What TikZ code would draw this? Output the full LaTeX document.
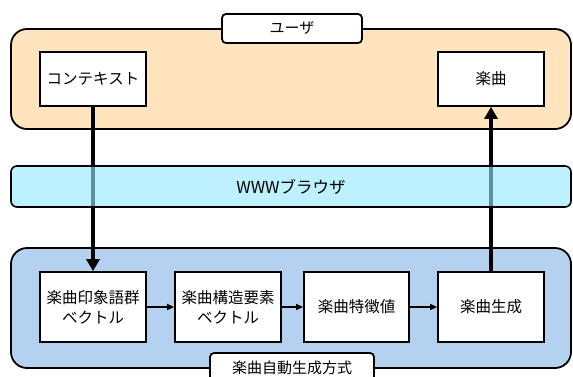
\documentclass[tikz,border=0pt]{standalone}
\usepackage{fontspec}
\setmainfont{Noto Sans CJK JP}
\usetikzlibrary{arrows.meta}
\definecolor{userfill}{RGB}{255,228,189}
\definecolor{genfill}{RGB}{180,210,240}
\definecolor{browserfill}{RGB}{150,232,255}
\tikzset{
  grp/.style={draw=black, line width=1.8pt, rounded corners=16pt},
  tagbox/.style={draw=black, fill=white, line width=1.8pt, rounded corners=4pt, font=\fontsize{15}{17}\selectfont},
  itembox/.style={draw=black, fill=white, line width=1.7pt, minimum width=106pt, minimum height=54pt, inner sep=0pt, align=center, font=\fontsize{15.5}{20}\selectfont},
  thick arrow/.style={line width=3.2pt, -{Triangle[width=13pt,length=12pt]}},
  thin arrow/.style={line width=1.2pt, -{Triangle[width=6pt,length=7pt]}},
}
\begin{document}
\begin{tikzpicture}[x=1pt,y=-1pt]
\useasboundingbox (0,0) rectangle (573,376);
% groups
\draw[grp, fill=userfill] (11,29) rectangle (571,129);
\draw[grp, fill=genfill] (11,248) rectangle (571,368);
\node[tagbox, minimum width=140pt, minimum height=29pt] (user) at (292,28.5) {ユーザ};
\node[tagbox, minimum width=164pt, minimum height=30pt] (gen) at (292,368) {楽曲自動生成方式};
% user items
\node[itembox] (ctx) at (93,79) {コンテキスト};
\node[itembox] (music) at (491,79) {楽曲};
% generation items
\node[itembox, minimum height=70pt] (v1) at (93,307) {楽曲印象語群\\ベクトル};
\node[itembox, minimum height=70pt] (v2) at (228,307) {楽曲構造要素\\ベクトル};
\node[itembox, minimum width=105pt, minimum height=70pt] (v3) at (356.5,307) {楽曲特徴値};
\node[itembox, minimum height=70pt] (v4) at (491,307) {楽曲生成};
% arrows
\draw[thin arrow] (v1) -- (v2);
\draw[thin arrow] (v2) -- (v3);
\draw[thin arrow] (v3) -- (v4);
\draw[thick arrow] (ctx.south) -- (v1.north);
\draw[thick arrow] (v4.north) -- (music.south);
% browser band (semi-transparent over arrows)
\draw[black, line width=1.6pt, fill=browserfill, fill opacity=0.62, rounded corners=6pt] (11,166) rectangle (571,207);
\node[font=\fontsize{16.5}{18}\selectfont] (browser) at (291,187) {WWWブラウザ};
\end{tikzpicture}
\end{document}
